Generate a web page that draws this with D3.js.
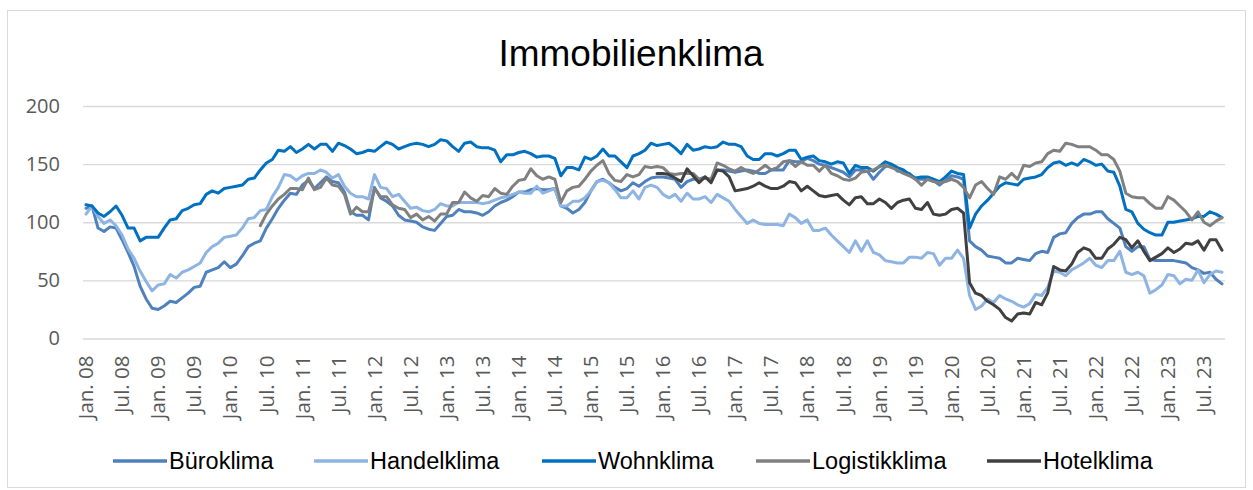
<!DOCTYPE html>
<html>
<head>
<meta charset="utf-8">
<script src="https://cdnjs.cloudflare.com/ajax/libs/d3/7.8.5/d3.min.js"></script>
<style>
  body { margin: 0; background: #fff; }
  .graph { width: 1253px; height: 490px; }
</style>
</head>
<body>
<div class="graph"></div>
<script>
const w = 1253;
const h = 490;
const margin = {top: 106, right: 28, bottom: 151, left: 83};

// monthly values, Jan. 08 - Oct. 23
const buero = [112,114,95,92,96,95,85,74,62,45,34,26,25,28,32,31,35,39,44,45,57,59,61,66,61,64,71,79,82,84,95,103,112,
  119,125,124,132,136,129,134,139,135,134,126,109,106,106,102,130,121,118,114,106,102,101,100,96,94,93,99,105,106,111,109,
  109,108,106,109,114,117,119,122,126,126,128,129,128,128,129,114,112,108,111,117,127,135,137,134,130,127,129,134,131,135,138,139,
  139,138,137,130,135,137,137,139,135,145,145,144,143,144,145,144,142,142,145,145,145,153,152,152,155,153,150,149,147,145,143,139,
  145,145,144,137,143,148,149,144,143,142,137,137,137,136,132,136,140,139,137,84,79,76,71,70,69,65,65,69,68,67,73,75,
  74,87,90,91,99,104,107,107,109,109,103,99,95,79,75,79,79,68,67,67,67,67,66,65,61,59,56,57,51,47];

const handel = [107,114,105,99,102,97,89,77,69,58,49,41,46,47,55,52,57,59,62,65,74,79,82,87,88,89,95,103,104,110,111,122,130,
  141,140,136,140,142,142,145,143,138,141,131,125,122,122,120,141,130,129,122,124,118,112,113,110,109,111,116,114,114,117,117,
  117,117,116,117,119,121,122,124,126,125,125,131,125,127,129,114,114,118,118,121,127,135,136,134,128,121,121,127,120,130,132,130,
  124,121,124,118,125,120,120,122,117,124,121,118,111,105,99,102,99,98,98,98,97,107,104,99,102,93,93,95,89,84,79,74,
  84,75,84,74,72,67,66,65,65,70,70,69,74,73,63,69,69,76,69,37,25,28,34,31,37,34,32,29,27,30,38,37,
  44,58,57,54,59,62,65,69,63,61,67,67,75,57,55,57,54,39,42,46,55,54,47,51,50,59,48,55,58,57];

const wohn = [115,114,108,105,109,114,106,95,95,84,87,87,87,95,102,103,110,112,115,116,124,127,125,129,130,131,132,137,138,145,151,154,162,
  161,165,160,163,167,163,167,167,161,168,166,163,159,160,162,161,165,169,167,163,165,167,168,167,165,167,171,170,165,161,168,
  169,165,164,164,162,152,158,158,160,161,159,156,157,157,155,140,147,147,145,156,154,157,163,157,157,152,147,157,159,162,168,166,
  167,168,164,159,167,162,163,165,164,165,169,167,167,165,157,154,154,159,159,157,159,162,162,154,156,157,153,152,150,152,151,142,
  149,147,147,144,148,152,150,147,145,141,138,139,139,137,135,139,144,142,141,95,107,114,119,125,131,134,133,132,137,138,139,141,
  147,151,152,149,151,149,154,152,149,150,144,143,131,111,109,99,94,91,89,89,100,100,101,102,103,105,105,109,107,104];

// Logistikklima starts Jun. 10, Hotelklima Dec. 15
const logistik = Array(29).fill(null).concat([97,107,114,120,
  124,129,129,128,138,128,130,138,132,131,124,107,113,109,109,129,122,122,115,112,111,104,107,102,105,101,107,107,117,117,126,
  121,118,123,122,129,125,124,131,136,137,146,140,137,139,137,117,127,130,131,137,144,149,153,142,136,135,141,139,141,148,147,148,
  147,142,141,142,142,142,137,138,137,151,149,146,144,147,144,142,145,149,145,147,152,153,148,152,149,149,144,149,142,140,137,136,
  138,143,144,145,148,149,147,145,142,140,137,132,137,135,134,135,137,135,130,121,132,135,129,124,139,137,142,137,149,148,151,152,
  159,162,161,168,167,165,165,165,162,158,158,154,144,125,122,121,121,116,112,112,122,119,114,109,102,109,100,97,101,104]);

const hotel = Array(95).fill(null).concat([142,142,141,138,135,146,140,134,139,134,145,144,139,127,128,129,131,134,131,129,129,131,135,134,127,131,127,123,122,123,124,119,115,
  121,122,116,116,120,117,112,117,119,120,112,111,117,107,106,107,111,112,108,48,39,37,32,29,25,18,15,21,22,21,31,29,
  39,62,59,58,64,74,78,76,69,69,77,81,87,85,78,84,75,67,70,73,78,74,77,82,81,84,76,85,85,76]);

const tickLabels = ["Jan. 08","Jul. 08","Jan. 09","Jul. 09","Jan. 10","Jul. 10","Jan. 11","Jul. 11",
  "Jan. 12","Jul. 12","Jan. 13","Jul. 13","Jan. 14","Jul. 14","Jan. 15","Jul. 15",
  "Jan. 16","Jul. 16","Jan. 17","Jul. 17","Jan. 18","Jul. 18","Jan. 19","Jul. 19",
  "Jan. 20","Jul. 20","Jan. 21","Jul. 21","Jan. 22","Jul. 22","Jan. 23","Jul. 23"];

const yTicks = [0, 50, 100, 150, 200];

const seriesNames = ["Büroklima", "Handelklima", "Wohnklima", "Logistikklima", "Hotelklima"];
const seriesColors = ["#4F81BD", "#8DB4E2", "#0070C0", "#808080", "#404040"];
const seriesData = [buero, handel, wohn, logistik, hotel];

const months = d3.range(buero.length);

const x = d3.scaleBand()
            .domain(months)
            .range([margin.left, w - margin.right]);

const y = d3.scaleLinear()
            .domain([0, 200])
            .range([h - margin.bottom - 0.5, margin.top]);

const canvas = d3.select(".graph")
                 .append("svg")
                 .attr("width", w)
                 .attr("height", h);

canvas.append("rect")
      .attr("x", 7.5)
      .attr("y", 10.5)
      .attr("width", 1238)
      .attr("height", 477)
      .attr("fill", "#fff")
      .attr("stroke", "#D9D9D9");

canvas.append("text")
      .attr("x", 631)
      .attr("y", 66)
      .attr("text-anchor", "middle")
      .style("font-family", "'Liberation Sans', Arial, sans-serif")
      .style("font-size", "37px")
      .attr("fill", "#000")
      .text("Immobilienklima");

// y axis with gridlines
const yAxis = d3.axisLeft(y)
                .tickValues(yTicks)
                .tickSize(-(w - margin.left - margin.right))
                .tickPadding(23);

const gy = canvas.append("g")
                 .attr("transform", `translate(${margin.left}, 0)`)
                 .call(yAxis);
gy.select(".domain").remove();
gy.selectAll("line").attr("stroke", "#D9D9D9").attr("stroke-width", 1.3);
gy.selectAll("text")
  .style("font-family", "'Open Sans', sans-serif")
  .style("font-size", "20px")
  .attr("fill", "#595959");

// x axis labels every 6 months
const xAxis = d3.axisBottom(x)
                .tickValues(months.filter(i => i % 6 === 0 && i / 6 < tickLabels.length))
                .tickFormat(i => tickLabels[i / 6])
                .tickSize(0);

const gx = canvas.append("g")
                 .attr("transform", `translate(0, ${y(0)})`)
                 .call(xAxis);
gx.select(".domain").remove();
gx.selectAll("text")
  .attr("transform", "rotate(-90)")
  .attr("text-anchor", "end")
  .attr("x", -17)
  .attr("y", 0)
  .attr("dy", "0.35em")
  .style("font-family", "'Open Sans', sans-serif")
  .style("font-size", "20.5px")
  .attr("fill", "#595959");

const line = d3.line()
               .defined(d => d != null)
               .x((d, i) => x(i) + x.bandwidth() / 2)
               .y(d => y(d));

canvas.append("g")
      .selectAll("path")
      .data(seriesData)
      .enter()
      .append("path")
      .attr("d", line)
      .attr("fill", "none")
      .attr("stroke", (d, i) => seriesColors[i])
      .attr("stroke-width", 3)
      .attr("stroke-linejoin", "round")
      .attr("stroke-linecap", "round");

// legend
const legendX = [113, 314, 542, 756, 987];

const legend = canvas.append("g")
                     .selectAll("g")
                     .data(seriesNames)
                     .enter()
                     .append("g")
                     .attr("transform", (d, i) => `translate(${legendX[i]}, 461)`);

legend.append("line")
      .attr("x1", 0)
      .attr("x2", 54)
      .attr("stroke", (d, i) => seriesColors[i])
      .attr("stroke-width", 3.5);

legend.append("text")
      .attr("x", 56)
      .attr("dy", "0.35em")
      .style("font-family", "'Liberation Sans', Arial, sans-serif")
      .style("font-size", "23.5px")
      .attr("fill", "#000")
      .text(d => d);
</script>
</body>
</html>
